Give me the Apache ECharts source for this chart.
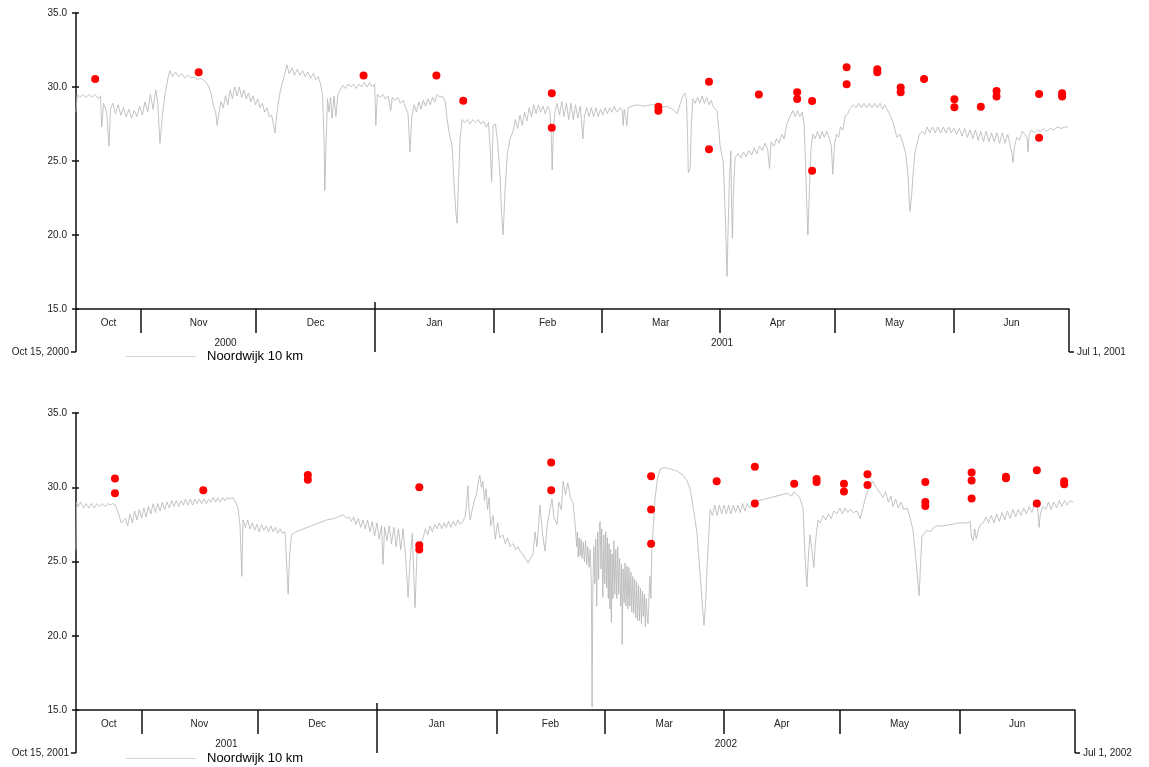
<!DOCTYPE html>
<html><head><meta charset="utf-8">
<script src="https://cdn.jsdelivr.net/npm/echarts@6/dist/echarts.min.js"></script>
<style>html,body{margin:0;padding:0;background:#fff}#c{width:1149px;height:767px}</style>
</head><body><div id="c"></div>
<script>
const monthNames = ['Jan','Feb','Mar','Apr','May','Jun','Jul','Aug','Sep','Oct','Nov','Dec'];
const yTicks = [15, 20, 25, 30, 35];
const seriesName = 'Noordwijk 10 km';
const period1 = ['2000-10-15', '2001-07-01'];
const period2 = ['2001-10-15', '2002-07-01'];

// [days since period start, salinity]
const line1 = [[0,28.3],[0.3,29.5],[1,29.3],[1.8,29.5],[2.6,29.3],[3.4,29.5],[4.2,29.3],[5,29.5],[5.8,29.2],[6.4,29.4],[6.7,27.3],[7.2,28.9],[8.0,28.3],[8.6,26.0],[9.0,28.5],[9.6,28.9],[10.3,28.2],[11,28.8],[11.7,28.1],[12.4,28.6],[13.1,28.0],[13.8,28.5],[14.5,27.9],[15.2,28.4],[15.9,28.0],[16.6,28.7],[17.3,28.1],[18,29.0],[18.7,28.3],[19.4,29.5],[20.1,28.5],[20.8,29.8],[21.3,29.0],[21.9,26.2],[22.5,28.0],[23.2,29.5],[24.0,30.6],[24.5,31.1],[25.2,30.7],[26,31.0],[26.8,30.7],[27.6,30.9],[28.4,30.6],[29.2,30.8],[30,30.6],[30.8,30.7],[31.6,30.5],[32.5,30.6],[33.6,30.4],[34.5,30.1],[35.2,29.6],[35.8,28.8],[36.5,28.2],[36.8,27.4],[37.3,28.3],[37.8,29.0],[38.4,28.6],[39,29.4],[39.6,28.8],[40.2,29.8],[40.8,29.2],[41.4,30.0],[42,29.4],[42.6,30.0],[43.2,29.3],[43.8,29.8],[44.4,29.2],[45,29.6],[45.6,29.0],[46.2,29.4],[46.8,28.8],[47.4,29.2],[48,28.6],[48.6,28.9],[49.2,28.3],[49.8,28.6],[50.4,28.0],[51,28.1],[51.5,27.5],[51.9,26.9],[52.3,28.0],[52.7,28.8],[53.2,29.6],[53.7,30.2],[54.2,30.6],[55.0,31.5],[55.6,30.9],[56.3,31.3],[57,30.8],[57.7,31.2],[58.4,30.8],[59.1,31.1],[59.8,30.7],[60.5,31.0],[61.2,30.6],[61.9,30.9],[62.6,30.5],[63.2,30.7],[63.8,30.2],[64.3,29.5],[64.7,26.5],[64.9,23.0],[65.2,26.0],[65.6,29.2],[66.0,28.3],[66.4,29.3],[66.8,27.9],[67.3,29.4],[67.8,28.0],[68.3,29.5],[68.9,29.8],[69.6,30.1],[70.3,29.9],[71,30.2],[71.7,30.0],[72.4,30.2],[73.1,29.9],[73.8,30.2],[74.5,30.0],[75.2,30.3],[75.9,30.0],[76.6,30.3],[77.3,30.0],[77.9,30.2],[78.2,27.4],[78.6,29.5],[79.3,29.3],[80,29.5],[80.7,29.2],[81.4,29.4],[82.1,28.4],[82.5,29.3],[83.2,29.1],[83.9,29.3],[84.6,28.9],[85.3,29.1],[86,28.6],[86.6,28.2],[87.1,25.6],[87.6,28.0],[88.2,28.8],[88.8,28.3],[89.4,29.0],[90,28.5],[90.6,29.1],[91.2,28.7],[91.8,29.2],[92.4,28.8],[93,29.3],[93.6,29.0],[94.2,29.5],[94.9,29.3],[95.6,29.4],[96.3,29.0],[96.8,27.8],[97.4,26.8],[98.1,26.0],[98.6,23.5],[99.1,21.5],[99.4,20.8],[99.8,24.0],[100.2,26.5],[100.7,27.8],[101.4,27.6],[102.1,27.8],[102.8,27.5],[103.5,27.8],[104.2,27.6],[104.9,27.8],[105.6,27.5],[106.3,27.7],[107,27.3],[107.6,27.6],[108.1,25.5],[108.4,23.6],[108.8,27.4],[109.4,27.5],[110.0,26.2],[110.6,24.0],[111.0,21.5],[111.4,20.0],[111.9,23.0],[112.5,25.5],[113.2,26.5],[114.0,27.0],[114.6,27.8],[115.2,27.2],[115.8,28.1],[116.4,27.4],[117,28.3],[117.6,27.7],[118.2,28.6],[118.8,28.0],[119.4,28.8],[120,28.2],[120.6,28.8],[121.2,28.3],[121.8,28.7],[122.4,28.2],[123,28.7],[123.6,28.4],[124.0,26.5],[124.2,24.4],[124.5,27.0],[124.9,28.3],[125.5,28.9],[126.1,28.1],[126.7,29.0],[127.3,28.0],[127.9,28.9],[128.5,27.8],[129.1,28.9],[129.7,27.8],[130.3,28.8],[130.9,27.9],[131.5,28.7],[132.0,27.2],[132.2,26.5],[132.6,28.0],[133.2,28.6],[133.8,28.0],[134.4,28.6],[135,28.0],[135.6,28.6],[136.2,28.0],[136.8,28.5],[137.4,28.1],[138,28.6],[138.6,28.2],[139.2,28.6],[139.8,28.3],[140.4,28.7],[141,28.3],[141.9,28.6],[142.5,28.4],[142.7,27.4],[143.0,28.5],[143.5,28.5],[143.7,27.4],[144.0,28.6],[145,28.7],[146.3,28.8],[148,28.7],[150,28.8],[151.5,28.8],[152.5,28.6],[154.1,28.7],[155.5,28.5],[156.8,28.2],[157.5,28.8],[158.3,29.4],[158.8,29.6],[159.2,29.2],[159.5,27.0],[159.7,24.2],[160.2,24.5],[160.5,27.5],[160.9,29.2],[161.5,28.9],[162.1,29.3],[162.7,28.9],[163.3,29.4],[163.9,28.9],[164.5,29.3],[165.1,28.8],[165.7,29.1],[166.3,28.6],[167.2,28.4],[167.7,27.0],[168.0,26.0],[168.8,25.0],[169.4,21.0],[169.8,17.2],[170.1,20.5],[170.4,23.5],[170.8,25.7],[171.0,22.0],[171.2,19.8],[171.5,23.0],[171.9,25.2],[172.7,25.5],[173.4,25.2],[174.1,25.6],[174.8,25.3],[175.5,25.7],[176.2,25.4],[176.9,25.9],[177.6,25.5],[178.3,26.0],[179,25.7],[179.7,26.2],[180.4,25.8],[180.9,24.5],[181.3,26.3],[182,26.0],[182.7,26.5],[183.4,26.2],[184.1,26.8],[184.7,26.5],[185.4,27.5],[186.2,28.0],[187.0,28.4],[187.6,28.0],[188.2,28.4],[188.8,28.0],[189.4,28.3],[189.9,27.5],[190.2,25.5],[190.6,22.0],[190.9,20.0],[191.3,23.0],[191.7,25.8],[192.2,26.8],[192.8,26.5],[193.4,27.0],[194,26.5],[194.6,27.0],[195.2,26.6],[195.8,27.0],[196.4,26.6],[197.0,26.0],[197.4,24.1],[197.8,26.0],[198.3,26.8],[198.9,26.6],[199.4,27.3],[200,27.1],[200.6,28.0],[201.3,28.2],[202.0,28.6],[202.7,28.8],[203.4,28.6],[204.1,28.9],[204.8,28.6],[205.5,28.9],[206.2,28.6],[206.9,28.9],[207.6,28.6],[208.3,28.9],[209,28.6],[209.7,28.9],[210.4,28.5],[211,28.8],[211.5,28.5],[212.2,28.2],[213.1,27.6],[213.7,27.0],[214.1,26.6],[214.9,26.8],[215.7,26.2],[216.4,25.5],[217.0,24.0],[217.5,21.6],[217.9,22.5],[218.3,24.0],[218.8,25.5],[219.3,26.1],[220,26.8],[220.7,27.0],[221.4,26.8],[222,27.3],[222.7,26.9],[223.4,27.3],[224.1,26.9],[224.8,27.3],[225.5,26.9],[226.2,27.3],[226.9,26.9],[227.6,27.3],[228.3,26.9],[229,27.2],[229.7,26.8],[230.4,27.2],[231.1,26.7],[231.8,27.2],[232.5,26.6],[233.2,27.1],[233.9,26.5],[234.6,27.1],[235.3,26.4],[236,27.0],[236.7,26.3],[237.4,27.0],[238.1,26.3],[238.8,26.9],[239.5,26.3],[240.2,26.9],[240.9,26.2],[241.6,26.9],[242.3,26.2],[243,26.8],[243.7,26.0],[244.1,25.5],[244.4,24.9],[244.8,26.0],[245.4,26.6],[246.1,26.4],[246.8,27.0],[247.5,26.8],[248.1,26.5],[248.3,25.6],[248.6,26.8],[249.2,27.1],[250,26.9],[250.8,27.1],[251.6,27.0],[252.4,27.2],[253.2,27.0],[254,27.2],[255,27.1],[256,27.3],[257,27.2],[258,27.3],[258.7,27.3]];

const dots1 = [[5,30.54],[32,31.0],[75,30.77],[94,30.77],[101,29.07],[124.1,29.57],[124.1,27.25],[151.9,28.67],[151.9,28.4],[165.1,30.36],[165.1,25.8],[178.1,29.5],[188.1,29.64],[188.1,29.19],[192,29.05],[192,24.34],[201,31.33],[201,30.18],[209,31.2],[209,30.99],[215.1,29.96],[215.1,29.64],[221.2,30.54],[229.1,29.17],[229.1,28.63],[236,28.67],[240.1,29.73],[240.1,29.35],[251.2,29.53],[251.2,26.57],[257.2,29.57],[257.2,29.35]];

const line2 = [[0,25.8],[0.15,29.0],[0.5,28.7],[1.2,29.0],[1.9,28.6],[2.6,28.9],[3.3,28.6],[4,28.9],[4.7,28.6],[5.4,28.9],[6.1,28.7],[6.8,28.9],[7.5,28.7],[8.2,28.9],[8.8,28.8],[9.5,28.9],[10.2,28.8],[10.6,28.5],[11.2,28.1],[11.7,27.6],[12.2,27.5],[12.8,27.9],[13.4,27.4],[14,28.2],[14.6,27.6],[15.2,28.4],[15.8,27.8],[16.4,28.5],[17,27.9],[17.6,28.6],[18.2,28.0],[18.8,28.7],[19.4,28.2],[20,28.9],[20.6,28.3],[21.2,28.9],[21.8,28.4],[22.4,29.0],[23,28.5],[23.6,29.0],[24.2,28.6],[24.8,29.1],[25.4,28.7],[26,29.1],[26.6,28.7],[27.2,29.1],[27.8,28.8],[28.4,29.2],[29,28.8],[29.6,29.2],[30.2,28.8],[30.8,29.2],[31.4,28.9],[32,29.2],[32.6,28.9],[33.2,29.2],[33.8,28.9],[34.4,29.2],[35,29.0],[35.6,29.3],[36.2,29.0],[36.8,29.3],[37.4,29.0],[38,29.3],[38.6,29.1],[39.2,29.3],[39.8,29.2],[40.7,29.3],[41.4,29.0],[42.0,28.6],[42.5,27.5],[43.0,24.0],[43.3,27.8],[43.9,27.3],[44.5,27.8],[45.1,27.2],[45.7,27.6],[46.3,27.1],[46.9,27.5],[47.5,27.0],[48.1,27.5],[48.7,27.1],[49.3,27.4],[49.9,27.0],[50.5,27.4],[51.1,27.0],[51.7,27.3],[52.3,26.9],[52.9,27.2],[53.5,26.9],[54.2,27.0],[54.7,26.9],[55.0,22.8],[55.4,25.5],[55.9,26.8],[57,27.0],[59,27.2],[61,27.4],[63,27.6],[65,27.8],[67,27.9],[69.3,28.15],[69.8,28.2],[70.2,27.9],[70.8,28.0],[71.4,27.7],[72,28.0],[72.6,27.5],[73.2,27.9],[73.8,27.3],[74.4,27.8],[75,27.2],[75.6,27.8],[76.2,27.0],[76.8,27.7],[77.4,26.7],[78,27.6],[78.6,26.5],[79.2,27.4],[79.6,24.8],[80,27.3],[80.6,26.4],[81.2,27.4],[81.8,26.2],[82.4,27.3],[83,26.0],[83.6,27.2],[84.2,25.8],[84.8,27.2],[85.4,25.5],[86.1,22.6],[86.6,25.0],[87.2,26.9],[87.9,21.9],[88.4,25.5],[89.2,26.1],[90.0,26.6],[90.6,27.2],[91.2,26.8],[91.8,27.4],[92.4,27.0],[93,27.5],[93.6,27.2],[94.2,27.6],[94.8,27.2],[95.4,27.6],[96,27.3],[96.6,27.7],[97.2,27.3],[97.8,27.7],[98.4,27.4],[99,27.8],[99.6,27.5],[100.3,27.7],[100.9,28.0],[101.3,29.0],[101.6,30.1],[101.9,28.5],[102.2,27.8],[102.8,28.6],[103.4,29.2],[103.9,29.6],[104.3,30.4],[104.7,30.8],[105.1,30.0],[105.5,30.4],[105.9,29.1],[106.3,29.9],[106.7,28.5],[107.1,29.3],[107.5,27.4],[108.1,28.1],[108.7,26.5],[109.3,27.6],[109.9,26.6],[110.7,26.8],[111.3,26.2],[111.9,26.6],[112.5,26.0],[113.3,26.2],[114,25.8],[114.6,26.0],[115.1,25.7],[115.8,25.5],[116.5,25.2],[117.2,24.9],[117.8,25.2],[118.5,25.5],[119.0,27.0],[119.5,26.0],[120.3,28.8],[120.9,27.0],[121.6,25.7],[122.2,27.5],[122.8,28.4],[123.4,29.2],[123.9,28.0],[124.7,27.5],[125.2,29.0],[125.8,28.5],[126.3,30.4],[126.9,29.5],[127.5,30.3],[128.2,29.3],[128.9,28.9],[129.5,27.2],[129.8,26.0],[130.0,27.0],[130.2,25.3],[130.45,26.6],[130.7,25.4],[130.95,26.5],[131.2,25.2],[131.5,26.3],[131.8,25.0],[132.1,26.4],[132.4,24.8],[132.7,26.0],[133.0,24.6],[133.3,25.8],[133.6,23.5],[133.8,15.2],[134.0,23.1],[134.25,26.0],[134.5,23.5],[134.75,26.5],[135.0,22.0],[135.25,27.0],[135.5,23.8],[135.7,27.5],[135.9,27.7],[136.1,24.5],[136.3,27.2],[136.6,22.6],[136.85,26.8],[137.1,23.5],[137.35,27.0],[137.6,23.2],[137.8,26.6],[138.0,22.5],[138.2,26.2],[138.4,21.8],[138.6,25.8],[138.8,20.9],[139.0,25.5],[139.2,22.5],[139.45,26.4],[139.7,22.8],[139.95,25.8],[140.2,22.5],[140.45,26.0],[140.7,22.8],[140.95,25.2],[141.2,22.0],[141.45,24.8],[141.6,19.4],[141.85,24.5],[142.1,22.2],[142.35,24.9],[142.6,22.0],[142.85,24.7],[143.1,21.8],[143.35,24.6],[143.6,22.0],[143.85,24.3],[144.1,21.6],[144.35,24.0],[144.6,21.5],[144.85,23.8],[145.1,21.2],[145.35,23.6],[145.6,21.0],[145.85,23.4],[146.1,21.0],[146.35,23.2],[146.6,20.8],[146.85,23.0],[147.1,21.3],[147.35,22.8],[147.6,20.6],[147.85,22.5],[148.1,21.3],[148.3,20.8],[148.55,22.6],[148.8,24.0],[149.05,22.5],[149.3,25.8],[149.7,27.5],[150.1,29.2],[150.7,30.5],[151.4,31.2],[152.2,31.3],[153.2,31.3],[154.5,31.2],[155.8,31.1],[157.4,30.8],[158.3,30.5],[159.2,29.9],[160.1,28.5],[161.0,26.9],[161.7,24.5],[162.3,22.4],[162.8,20.7],[163.2,22.0],[163.6,24.6],[164.0,26.5],[164.4,28.5],[165,28.1],[165.6,28.8],[166.2,28.1],[166.8,28.8],[167.4,28.2],[168,28.8],[168.6,28.2],[169.2,28.8],[169.8,28.2],[170.4,28.8],[171,28.3],[171.6,28.8],[172.2,28.3],[172.8,28.9],[173.4,28.4],[174,28.9],[174.7,28.6],[175.5,29.0],[177,29.1],[178.5,29.2],[180,29.3],[181.5,29.4],[183,29.5],[184.5,29.6],[185.5,29.4],[186.2,29.7],[186.9,29.5],[187.6,29.3],[188.5,28.6],[189.0,25.3],[189.5,23.3],[189.9,25.5],[190.3,26.8],[190.9,25.5],[191.3,24.6],[191.6,26.0],[192.0,27.0],[192.4,27.8],[193.0,27.6],[193.7,28.1],[194.4,27.8],[195.1,28.2],[195.8,27.9],[196.5,28.4],[197.3,28.2],[198,28.6],[198.7,28.2],[199.4,28.6],[200.1,28.3],[200.8,28.5],[201.5,28.3],[202.5,28.4],[203.3,27.9],[204.0,28.6],[204.8,29.4],[205.5,29.9],[206.0,30.2],[206.6,30.4],[207.4,30.0],[208.5,29.6],[209.2,29.3],[209.9,29.7],[210.6,29.0],[211.3,29.4],[211.8,28.7],[212.5,29.2],[213.2,28.6],[213.9,29.0],[214.6,28.5],[215.5,28.6],[216.2,28.0],[217.0,27.1],[217.8,25.0],[218.3,23.5],[218.6,22.7],[218.9,24.5],[219.3,26.7],[220,26.9],[220.6,27.1],[221.5,27.0],[222.4,27.3],[223.2,27.4],[225,27.4],[227,27.5],[229,27.6],[231,27.6],[231.8,27.7],[232.2,26.6],[232.6,26.4],[233,27.2],[233.4,26.5],[233.9,27.1],[234.5,27.5],[235.2,27.6],[235.9,28.0],[236.6,27.6],[237.3,28.1],[238,27.6],[238.7,28.2],[239.4,27.7],[240.1,28.3],[240.8,27.8],[241.5,28.4],[242.2,27.9],[242.9,28.5],[243.6,28.0],[244.3,28.5],[245,28.1],[245.7,28.6],[246.4,28.2],[247.1,28.7],[247.8,28.3],[248.5,28.8],[249.2,28.9],[249.5,28.0],[249.7,27.3],[250.0,28.2],[250.7,28.7],[251.4,28.5],[252.1,29.0],[252.8,28.5],[253.5,29.0],[254.2,28.6],[254.9,29.1],[255.6,28.7],[256.3,29.1],[257,28.8],[257.7,29.1],[258.5,29.0]];

const dots2 = [[10.1,30.59],[10.1,29.6],[33,29.8],[60.1,30.83],[60.1,30.5],[89,30.0],[89,26.1],[89,25.8],[123.2,31.67],[123.2,29.8],[149.1,30.74],[149.1,28.5],[149.1,26.2],[166.1,30.41],[176,31.38],[176,28.9],[186.2,30.24],[192,30.56],[192,30.36],[199.1,30.24],[199.1,29.72],[205.2,30.87],[205.2,30.15],[220.2,30.36],[220.2,29.0],[220.2,28.73],[232.2,31.0],[232.2,30.45],[232.2,29.24],[241.1,30.7],[241.1,30.6],[249.1,31.14],[249.1,28.9],[256.2,30.4],[256.2,30.2]];

const FONT = 'Liberation Sans, Arial, Helvetica, sans-serif';
const DAY = 86400000;
function parseDate(s){ const p = s.split('-').map(Number); return new Date(p[0], p[1]-1, p[2]).getTime(); }
function fmtDate(t){ const d = new Date(t); return monthNames[d.getMonth()] + ' ' + d.getDate() + ', ' + d.getFullYear(); }
function toTime(arr, start){ return arr.map(p => [start + p[0]*DAY, p[1]]); }

function monthInfo(start, end){
  const ticks = [], labels = [], years = [], yearLabels = [];
  let d = new Date(start); d = new Date(d.getFullYear(), d.getMonth()+1, 1);
  const bounds = [start];
  while (d.getTime() < end) { bounds.push(d.getTime()); d = new Date(d.getFullYear(), d.getMonth()+1, 1); }
  bounds.push(end);
  for (let i = 0; i < bounds.length-1; i++) {
    labels.push((bounds[i]+bounds[i+1])/2);
    if (i > 0) {
      const dt = new Date(bounds[i]);
      if (dt.getMonth() === 0) years.push(bounds[i]); else ticks.push(bounds[i]);
    }
  }
  const ybounds = [start].concat(years).concat([end]);
  for (let i = 0; i < ybounds.length-1; i++) yearLabels.push((ybounds[i]+ybounds[i+1])/2);
  return {ticks, labels, years, yearLabels};
}

const axisColor = '#111';
function xAxesFor(gridIndex, start, end){
  const m = monthInfo(start, end);
  const base = {type:'value', gridIndex, min:start, max:end, scale:true, splitLine:{show:false}, position:'bottom'};
  return [
    Object.assign({}, base, {
      axisLine:{show:true, onZero:false, lineStyle:{color:axisColor, width:1.5}},
      axisTick:{show:true, customValues:m.ticks, length:24, lineStyle:{color:axisColor, width:1.5}},
      axisLabel:{show:true, customValues:m.labels, margin:9, fontSize:10, color:'#222', fontFamily:FONT,
        formatter: v => monthNames[new Date(v).getMonth()]}
    }),
    Object.assign({}, base, {
      axisLine:{show:false},
      axisTick:{show:true, customValues:m.years, length:43, lineStyle:{color:axisColor, width:1.5}},
      axisLabel:{show:true, customValues:m.yearLabels, margin:29, fontSize:10, color:'#222', fontFamily:FONT,
        formatter: v => String(new Date(v).getFullYear())}
    }),
    Object.assign({}, base, {
      axisLine:{show:false},
      axisTick:{show:true, inside:true, customValues:m.years, length:7, lineStyle:{color:axisColor, width:1.5}},
      axisLabel:{show:false}
    })
  ];
}
function yAxisFor(gridIndex, inner){
  const ax = {type:'value', gridIndex, min:yTicks[0], max:yTicks[yTicks.length-1], interval:5, position:'left',
    splitLine:{show:false},
    axisLine:{show:!inner, onZero:false, lineStyle:{color:axisColor, width:1.5}},
    axisTick:{show:true, inside:!!inner, length:inner ? 3 : 4, lineStyle:{color:axisColor, width:1.5}},
    axisLabel:{show:!inner, margin:9, fontSize:10, color:'#222', fontFamily:FONT, formatter: v => v.toFixed(1)}
  };
  return ax;
}

const s1 = parseDate(period1[0]), e1 = parseDate(period1[1]);
const s2 = parseDate(period2[0]), e2 = parseDate(period2[1]);

function endSeries(xi, yi, start, end){
  return {
    type:'custom', xAxisIndex:xi, yAxisIndex:yi, clip:false, silent:true, z:5,
    data:[[start, yTicks[0]], [end, yTicks[0]]],
    encode:{x:0, y:1},
    renderItem:(params, api) => {
      const p = api.coord([api.value(0), api.value(1)]);
      const left = params.dataIndex === 0;
      const yb = p[1] + 43;
      return {type:'group', children:[
        {type:'line', shape:{x1:p[0], y1:p[1], x2:p[0], y2:yb}, style:{stroke:axisColor, lineWidth:1.5}},
        {type:'line', shape:{x1:p[0], y1:yb, x2:p[0]+(left?-5:5), y2:yb}, style:{stroke:axisColor, lineWidth:1.5}},
        {type:'text', x:p[0]+(left?-7:8), y:yb, style:{text:fmtDate(api.value(0)), align:left?'right':'left',
          verticalAlign:'middle', fontSize:10, fontFamily:FONT, fill:'#222'}}
      ]};
    }
  };
}
function lineSeries(xi, yi, data){
  return {type:'line', name:seriesName, xAxisIndex:xi, yAxisIndex:yi, data, showSymbol:false, symbol:'none',
    lineStyle:{color:'#b4b4b4', width:0.8}, itemStyle:{color:'#b4b4b4'}, animation:false, z:2};
}
function dotSeries(xi, yi, data){
  return {type:'scatter', name:'obs', xAxisIndex:xi, yAxisIndex:yi, data, symbolSize:8,
    itemStyle:{color:'#ff0000', opacity:1}, animation:false, z:4};
}
function legendFor(top){
  return {data:[{name:seriesName, icon:'rect', itemStyle:{color:'#d4d4d4'}}], left:121, top, itemWidth:70, itemHeight:1,
    selectedMode:false, textStyle:{fontSize:13, color:'#000', fontFamily:FONT, padding:[0,0,0,6]}};
}

const chart = echarts.init(document.getElementById('c'), null, {renderer:'canvas'});
chart.setOption({
  backgroundColor:'#fff',
  animation:false,
  grid:[{left:76, top:13, width:993, height:296}, {left:76, top:413, width:999, height:297}],
  xAxis: xAxesFor(0, s1, e1).concat(xAxesFor(1, s2, e2)),
  yAxis: [yAxisFor(0, false), yAxisFor(1, false), yAxisFor(0, true), yAxisFor(1, true)],
  legend: [legendFor(345), legendFor(747)],
  series: [
    lineSeries(0, 0, toTime(line1, s1)),
    dotSeries(0, 0, toTime(dots1, s1)),
    endSeries(0, 0, s1, e1),
    lineSeries(3, 1, toTime(line2, s2)),
    dotSeries(3, 1, toTime(dots2, s2)),
    endSeries(3, 1, s2, e2)
  ]
});
</script></body></html>
